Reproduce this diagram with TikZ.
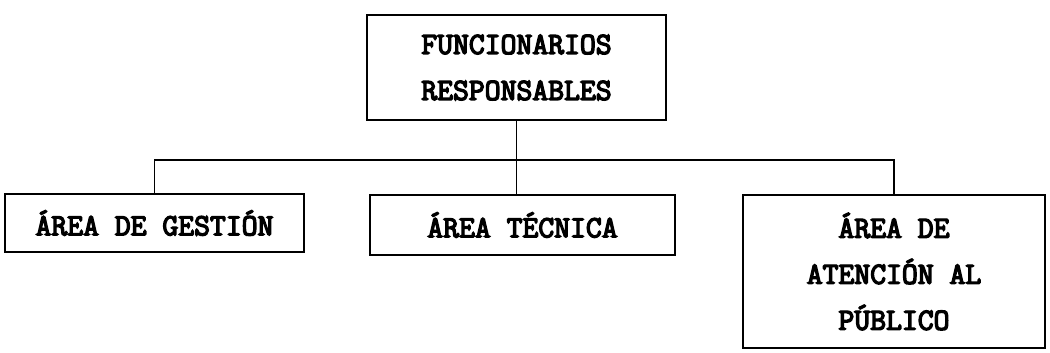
\documentclass[tikz,border=0pt]{standalone}
\usepackage{fontspec}
\newfontfamily\orgfont{Latin Modern Mono}[FakeBold=4.5]
\begin{document}
\begin{tikzpicture}[x=0.5pt,y=-0.5pt,
  orgbox/.style={draw,line width=1.2pt,inner sep=0pt,align=center,
    font=\orgfont\fontsize{15.4}{23}\selectfont},
  link/.style={line width=0.9pt}]
\useasboundingbox (0,0) rectangle (1050,353);
\node[orgbox,minimum width=149.5pt,minimum height=52.5pt] (top) at (516.5,67.5)
  {FUNCIONARIOS\\RESPONSABLES};
\node[orgbox,minimum width=149.5pt,minimum height=29pt] (left) at (154.5,223)
  {ÁREA DE GESTIÓN};
\node[orgbox,minimum width=152.5pt,minimum height=30pt] (mid) at (522.5,225)
  {ÁREA TÉCNICA};
\node[orgbox,minimum width=151pt,minimum height=76.5pt] (right) at (894,271.5)
  {ÁREA DE\\ATENCIÓN AL\\PÚBLICO};
\coordinate (j) at (516.5,160);
\draw[link] (top.south) -- (j);
\draw[link] (left.north) |- (j) -| (right.north);
\draw[link] (j) -- (j |- mid.north);
\end{tikzpicture}
\end{document}
